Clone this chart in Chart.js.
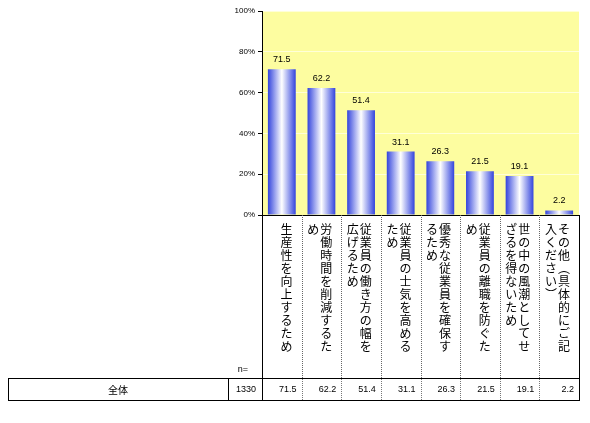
<!DOCTYPE html>
<html><head><meta charset="utf-8">
<script src="https://cdn.jsdelivr.net/npm/chart.js@4"></script>
<style>html,body{margin:0;padding:0;background:#fff}#w{width:590px;height:423px}</style>
</head><body><div id="w"><canvas id="c"></canvas></div>
<script>
const categories = ["生産性を向上するため","労働時間を削減するため","従業員の働き方の幅を広げるため","従業員の士気を高めるため","優秀な従業員を確保するため","従業員の離職を防ぐため","世の中の風潮としてせざるを得ないため","その他︵具体的にご記入ください︶"];
const values = [71.5,62.2,51.4,31.1,26.3,21.5,19.1,2.2];
const rowLabel = "全体";
const nCount = "1330";
const FONT = "'Noto Sans CJK JP', sans-serif";

const bgPlugin = {id:'bg', beforeDraw(ch){const a=ch.chartArea,x=ch.ctx;x.save();x.fillStyle='#FDFDA0';x.fillRect(a.left,a.top,a.right-a.left,a.bottom-a.top);x.restore();}};
const extra = {id:'extra', afterDraw(ch){
  const x=ch.ctx,a=ch.chartArea,meta=ch.getDatasetMeta(0);
  x.save();
  x.fillStyle='#000';x.font="9px 'Liberation Sans', sans-serif";x.textAlign='center';x.textBaseline='bottom';
  meta.data.forEach((b,i)=>x.fillText(values[i].toFixed(1),b.x,b.y-5));
  const w=(a.right-a.left)/categories.length;
  x.strokeStyle='#666';x.lineWidth=1;x.setLineDash([1,1]);
  for(let i=1;i<categories.length;i++){const lx=Math.round(a.left+i*w)+0.5;x.beginPath();x.moveTo(lx,a.bottom);x.lineTo(lx,378);x.stroke();}
  x.setLineDash([]);x.strokeStyle='#000';
  x.beginPath();x.moveTo(a.left+0.5,a.bottom);x.lineTo(a.left+0.5,378);x.moveTo(a.right+0.5,a.bottom);x.lineTo(a.right+0.5,378);x.stroke();
  x.font="12px "+FONT;x.textAlign='center';x.textBaseline='middle';x.fillStyle='#000';
  categories.forEach((t,i)=>{
    const chars=[...t],right=a.left+(i+1)*w;
    for(let k=0;k<chars.length;k++){const col=Math.floor(k/10),row=k%10;
      x.fillText(chars[k],right-15-col*13,229+row*13.1);}
  });
  x.font="9px 'Liberation Sans', sans-serif";x.fillText('n=',243,370);
  x.strokeStyle='#000';x.lineWidth=1;
  x.strokeRect(8.5,378.5,a.right-8,22);
  [228,a.left].forEach(v=>{x.beginPath();x.moveTo(Math.round(v)+0.5,378);x.lineTo(Math.round(v)+0.5,401);x.stroke();});
  x.strokeStyle='#777';x.setLineDash([1,1]);
  for(let i=1;i<categories.length;i++){const lx=Math.round(a.left+i*w)+0.5;x.beginPath();x.moveTo(lx,379);x.lineTo(lx,400);x.stroke();}
  x.setLineDash([]);
  x.fillStyle='#000';x.font="10px "+FONT;x.fillText(rowLabel,118,390);
  x.font="9px 'Liberation Sans', sans-serif";x.textAlign='right';
  x.fillText(nCount,256,390);
  values.forEach((v,i)=>x.fillText(v.toFixed(1),a.left+(i+1)*w-5,390));
  x.restore();
}};
new Chart(document.getElementById('c'),{
  type:'bar',
  data:{labels:categories,datasets:[{data:values,
    backgroundColor(c){const ch=c.chart,s=ch.scales&&ch.scales.x;if(!s||!ch.chartArea)return '#6677ee';
      const cx=s.getPixelForValue(c.dataIndex);const hw=(ch.chartArea.right-ch.chartArea.left)/categories.length*0.9*0.78/2;
      if(!isFinite(cx)||!isFinite(hw)||hw<=0)return '#6677ee';
      const g=ch.ctx.createLinearGradient(cx-hw,0,cx+hw,0);
      g.addColorStop(0,'#3344dd');g.addColorStop(0.5,'#ffffff');g.addColorStop(1,'#3344dd');return g;},
    borderWidth:0,barPercentage:0.9,categoryPercentage:0.78}]},
  options:{responsive:true,maintainAspectRatio:false,animation:false,
    layout:{padding:{left:228,right:11,top:11,bottom:0}},
    plugins:{legend:{display:false},tooltip:{enabled:false}},
    scales:{
      x:{afterFit(s){s.height=208;},ticks:{display:false},grid:{display:false},border:{color:'#000'}},
      y:{min:0,max:100,afterFit(s){s.width=34;},ticks:{stepSize:20,callback:v=>v+'%',font:{size:8,family:"'Liberation Sans', sans-serif"},color:'#000'},
        grid:{color:'#FFFFD8',drawTicks:true,tickLength:4,tickColor:'#000'},border:{color:'#000'}}
    }},
  plugins:[bgPlugin,extra]
});
</script></body></html>
